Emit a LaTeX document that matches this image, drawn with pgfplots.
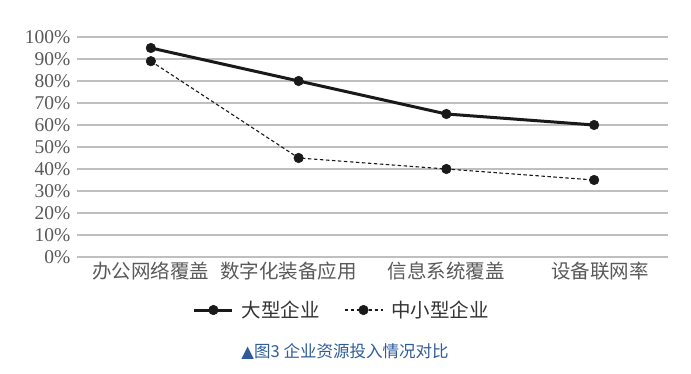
\documentclass[border=0pt]{standalone}
\usepackage{pgfplots}
\pgfplotsset{compat=1.18}
\usepackage{fontspec}
\setmainfont{Liberation Serif}
\newfontfamily\cjk{Noto Sans CJK SC}
\newfontfamily\sym{DejaVu Sans}
\definecolor{gridgray}{HTML}{BFBFBF}
\definecolor{txtgray}{HTML}{595959}
\definecolor{capblue}{HTML}{2F5C99}
\begin{document}
\begin{tikzpicture}[x=1pt,y=1pt]
\path[use as bounding box] (-77,-117) rectangle (614,257);
\begin{axis}[
  at={(0,0)}, anchor=south west,
  scale only axis, width=591pt, height=220pt,
  xmin=-0.5, xmax=3.5, ymin=0, ymax=100,
  axis line style={draw=none},
  major tick length=0pt,
  ytick={0,10,...,100},
  yticklabel={\pgfmathprintnumber{\tick}\%},
  /pgf/number format/assume math mode=true,
  yticklabel style={font=\fontsize{19.5}{19.5}\selectfont, text=txtgray, xshift=-3pt},
  xtick={0,0.93,2,3.04},
  xticklabels={办公网络覆盖,数字化装备应用,信息系统覆盖,设备联网率},
  xticklabel style={font=\cjk\fontsize{19.5}{19.5}\selectfont, text=txtgray, yshift=-1pt},
  ymajorgrids,
  grid style={gridgray, line width=1.3pt},
  clip=false,
  legend columns=2,
  legend style={at={(axis description cs:0.448,-0.241)}, anchor=center, draw=none, fill=none,
    font=\cjk\fontsize{19.5}{19.5}\selectfont, text=black!80,
    /tikz/every odd column/.append style={column sep=6pt},
    /tikz/every even column/.append style={column sep=22pt}},
  legend image code/.code={\draw[mark repeat=2,mark phase=2,#1] plot coordinates {(0pt,0pt)(19pt,0pt)(38pt,0pt)};},
]
\addplot[black!90, line width=3pt, mark=*, mark size=4.8pt, mark options={solid, line width=0.5pt, fill=black!90}]
  coordinates {(0,95)(1,80)(2,65)(3,60)};
\addlegendentry{大型企业}
\addplot[black!90, line width=1.1pt, dash pattern=on 3.5pt off 2.5pt, mark=*, mark size=4.8pt, mark options={solid, line width=0.5pt, fill=black!90}]
  coordinates {(0,89)(1,45)(2,40)(3,35)};
\addlegendentry{中小型企业}
\end{axis}
\node[font=\cjk\fontsize{16.5}{16.5}\selectfont, text=capblue] at (268,-95) {{\sym ▲}图3 企业资源投入情况对比};
\end{tikzpicture}
\end{document}
